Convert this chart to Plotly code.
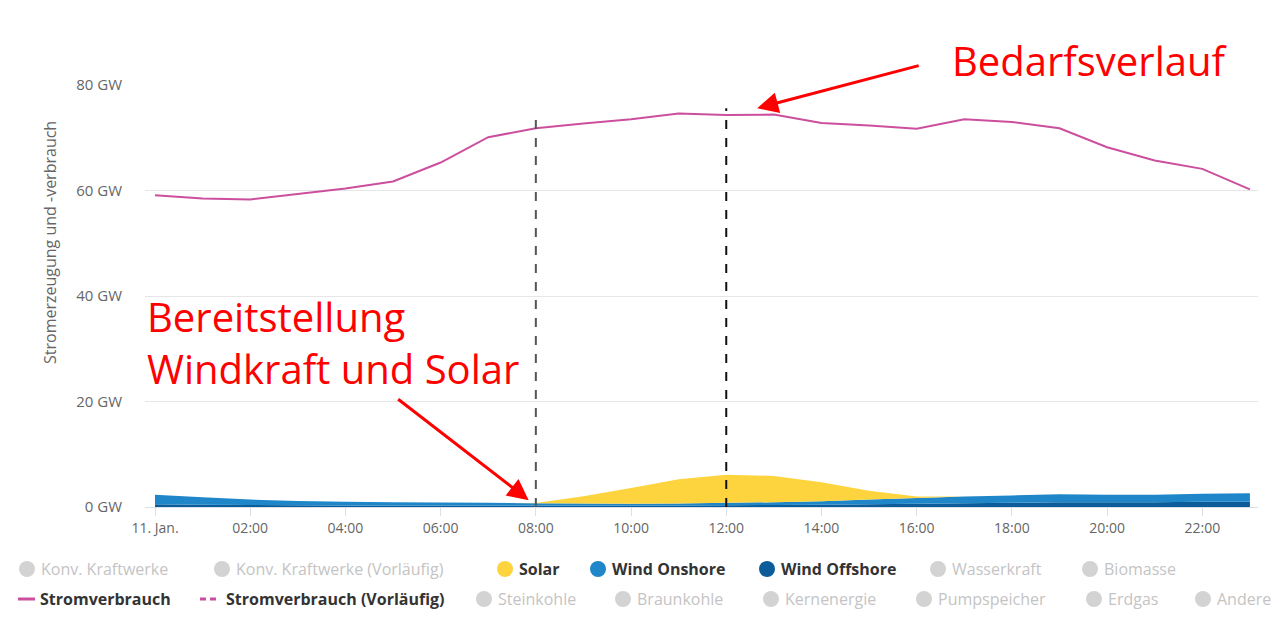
import plotly.graph_objects as go

hours = list(range(24))
tick_hours = [0, 2, 4, 6, 8, 10, 12, 14, 16, 18, 20, 22]
tick_labels = ["11. Jan.", "02:00", "04:00", "06:00", "08:00", "10:00", "12:00",
               "14:00", "16:00", "18:00", "20:00", "22:00"]
y_ticks = [0, 20, 40, 60, 80]
y_tick_labels = ["0 GW", "20 GW", "40 GW", "60 GW", "80 GW"]
y_title = "Stromerzeugung und -verbrauch"

demand = [59.1, 58.5, 58.3, 59.3, 60.4, 61.7, 65.3, 70.1, 71.8, 72.7, 73.5, 74.6,
          74.3, 74.4, 72.8, 72.3, 71.7, 73.5, 73.0, 71.8, 68.2, 65.7, 64.1, 60.2]
wind_offshore = [0.5, 0.45, 0.4, 0.35, 0.3, 0.3, 0.3, 0.3, 0.3, 0.3, 0.3, 0.3,
                 0.35, 0.4, 0.45, 0.5, 0.6, 0.7, 0.8, 0.9, 0.9, 0.9, 1.0, 1.0]
wind_onshore = [1.8, 1.4, 1.0, 0.8, 0.7, 0.6, 0.55, 0.5, 0.4, 0.35, 0.3, 0.35,
                0.45, 0.5, 0.65, 0.9, 1.1, 1.3, 1.4, 1.5, 1.4, 1.4, 1.5, 1.6]
solar = [0, 0, 0, 0, 0, 0, 0, 0, 0.05, 1.4, 3.0, 4.6, 5.3, 5.0, 3.6, 1.7, 0.3,
         0, 0, 0, 0, 0, 0, 0]

marker_hours = [8, 12]
marker_tops = [74.3, 75.6]
marker_colors = ["#555555", "#111111"]

legend_row1 = ["Konv. Kraftwerke", "Konv. Kraftwerke (Vorläufig)", "Solar", "Wind Onshore",
               "Wind Offshore", "Wasserkraft", "Biomasse"]
legend_row1_active = [False, False, True, True, True, False, False]
legend_row1_colors = ["#d3d3d3", "#d3d3d3", "#fdd43e", "#1f87c9", "#0b5c98", "#d3d3d3", "#d3d3d3"]
legend_row1_px = [27, 222, 505, 598, 767, 938, 1090]

legend_row2 = ["Steinkohle", "Braunkohle", "Kernenergie", "Pumpspeicher", "Erdgas", "Andere"]
legend_row2_px = [484, 623, 771, 924, 1094, 1203]

C_SOLAR = "#fdd43e"
C_ON = "#1f87c9"
C_OFF = "#0b5c98"
C_DEM = "#cc4f9e"

fig = go.Figure()
fig.add_trace(go.Scatter(x=hours, y=wind_offshore, stackgroup="gen", mode="none",
                         fillcolor=C_OFF, name="Wind Offshore", line=dict(width=0)))
fig.add_trace(go.Scatter(x=hours, y=wind_onshore, stackgroup="gen", mode="none",
                         fillcolor=C_ON, name="Wind Onshore", line=dict(width=0)))
fig.add_trace(go.Scatter(x=hours, y=solar, stackgroup="gen", mode="none",
                         fillcolor=C_SOLAR, name="Solar", line=dict(width=0)))
fig.add_trace(go.Scatter(x=hours, y=demand, mode="lines", name="Stromverbrauch",
                         line=dict(color=C_DEM, width=2)))

# page offset (browser body margin) and figure size
OFF = 8
FW, FH = 1288 - 2 * OFF, 617 - 2 * OFF
# plot area in page pixels
PL, PR, PT, PB = 145, 1258, 85, 507
L = PL - OFF
R = FW - (PR - OFF)
T = PT - OFF
B = FH - (PB - OFF)
W = PR - PL
H = PB - PT

def px_x(p):
    return (p - PL) / W

def px_y(p):
    return (PB - p) / H

shapes = []
for h, top, c in zip(marker_hours, marker_tops, marker_colors):
    shapes.append(dict(type="line", xref="x", yref="y", x0=h, x1=h, y0=0, y1=top,
                       line=dict(color=c, width=2, dash="dash"), layer="above"))

annotations = []
legend_font = "Open Sans"
LFS = 16
ry1 = px_y(569)
ry2 = px_y(599)
for lab, act, col, p in zip(legend_row1, legend_row1_active, legend_row1_colors, legend_row1_px):
    shapes.append(dict(type="circle", xref="paper", yref="paper", xsizemode="pixel",
                       ysizemode="pixel", xanchor=px_x(p), yanchor=ry1, x0=-8, x1=8,
                       y0=-8, y1=8, fillcolor=col, line=dict(width=0)))
    annotations.append(dict(xref="paper", yref="paper", x=px_x(p + 12), y=ry1,
                            xanchor="left", yanchor="middle", showarrow=False,
                            text=("<b>%s</b>" % lab) if act else lab,
                            font=dict(family=legend_font, size=LFS,
                                      color="#333333" if act else "#c4c4c4")))
for lab, p in zip(legend_row2, legend_row2_px):
    shapes.append(dict(type="circle", xref="paper", yref="paper", xsizemode="pixel",
                       ysizemode="pixel", xanchor=px_x(p), yanchor=ry2, x0=-8, x1=8,
                       y0=-8, y1=8, fillcolor="#d3d3d3", line=dict(width=0)))
    annotations.append(dict(xref="paper", yref="paper", x=px_x(p + 12), y=ry2,
                            xanchor="left", yanchor="middle", showarrow=False, text=lab,
                            font=dict(family=legend_font, size=LFS, color="#c4c4c4")))
# line legend items
shapes.append(dict(type="line", xref="paper", yref="paper", x0=px_x(18), x1=px_x(35),
                   y0=ry2, y1=ry2, line=dict(color=C_DEM, width=3)))
shapes.append(dict(type="line", xref="paper", yref="paper", x0=px_x(200), x1=px_x(218),
                   y0=ry2, y1=ry2, line=dict(color=C_DEM, width=3, dash="6px,4px")))
annotations.append(dict(xref="paper", yref="paper", x=px_x(38), y=ry2, xanchor="left",
                        yanchor="middle", showarrow=False, text="<b>Stromverbrauch</b>",
                        font=dict(family=legend_font, size=LFS, color="#333333")))
annotations.append(dict(xref="paper", yref="paper", x=px_x(224), y=ry2, xanchor="left",
                        yanchor="middle", showarrow=False,
                        text="<b>Stromverbrauch (Vorläufig)</b>",
                        font=dict(family=legend_font, size=LFS, color="#333333")))

# y-axis title (placed like the reference, above the axis centre)
annotations.append(dict(xref="paper", yref="paper", x=px_x(50), y=px_y(243),
                        xanchor="center", yanchor="middle", showarrow=False,
                        textangle=-90, text=y_title,
                        font=dict(family="Open Sans", size=16, color="#666666")))

# red callouts
red_font = dict(family="Open Sans", size=40, color="#ff0000")
annotations.append(dict(xref="paper", yref="paper", x=px_x(950), y=px_y(60),
                        xanchor="left", yanchor="middle", showarrow=False,
                        text="Bedarfsverlauf", font=red_font))
annotations.append(dict(xref="paper", yref="paper", x=px_x(145), y=px_y(342),
                        xanchor="left", yanchor="middle", showarrow=False, align="left",
                        text="Bereitstellung<br>Windkraft und Solar", font=red_font))
annotations.append(dict(xref="x", yref="y", x=12.65, y=75.6, ax=163, ay=-43, text="",
                        showarrow=True, arrowhead=2, arrowsize=1.4, arrowwidth=3,
                        arrowcolor="#ff0000"))
annotations.append(dict(xref="x", yref="y", x=7.85, y=1.3, ax=-132, ay=-102, text="",
                        showarrow=True, arrowhead=2, arrowsize=1.4, arrowwidth=3,
                        arrowcolor="#ff0000"))

fig.update_layout(
    width=FW, height=FH,
    margin=dict(l=L, r=R, t=T, b=B, pad=0),
    paper_bgcolor="white", plot_bgcolor="white",
    showlegend=False,
    shapes=shapes, annotations=annotations,
    font=dict(family="Open Sans", color="#666666", size=13),
    xaxis=dict(range=[-0.21, 23.17], tickvals=tick_hours, ticktext=tick_labels,
               showgrid=False, zeroline=False, showline=True, linecolor="#d8e0ea",
               linewidth=1, ticks="outside", ticklen=8, tickcolor="#d8e0ea",
               tickfont=dict(size=14, color="#666666")),
    yaxis=dict(range=[0, 80], tickvals=y_ticks, ticktext=y_tick_labels,
               showgrid=True, gridcolor="#e6e6e6", zeroline=False, showline=False,
               ticks="", ticklabelstandoff=22, tickfont=dict(size=15, color="#666666")),
)

fig.write_html("out.html")
